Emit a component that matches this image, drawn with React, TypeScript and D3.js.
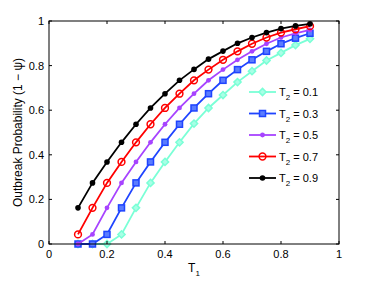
import * as d3 from 'd3'

const T1 = [0.1, 0.15, 0.2, 0.25, 0.3, 0.35, 0.4, 0.45, 0.5, 0.55, 0.6, 0.65, 0.7, 0.75, 0.8, 0.85, 0.9]

const seriesT01 = [0, 0, 0, 0.043, 0.162, 0.274, 0.368, 0.456, 0.54, 0.61, 0.668, 0.726, 0.775, 0.823, 0.857, 0.892, 0.92]
const seriesT03 = [0, 0, 0.043, 0.162, 0.274, 0.368, 0.456, 0.537, 0.61, 0.674, 0.734, 0.782, 0.826, 0.864, 0.898, 0.923, 0.945]
const seriesT05 = [0, 0.043, 0.162, 0.274, 0.368, 0.456, 0.537, 0.61, 0.674, 0.734, 0.782, 0.826, 0.864, 0.898, 0.926, 0.945, 0.96]
const seriesT07 = [0.043, 0.162, 0.274, 0.368, 0.456, 0.537, 0.61, 0.674, 0.734, 0.782, 0.826, 0.864, 0.898, 0.926, 0.948, 0.963, 0.977]
const seriesT09 = [0.162, 0.274, 0.368, 0.456, 0.537, 0.61, 0.674, 0.734, 0.783, 0.829, 0.865, 0.9, 0.926, 0.948, 0.966, 0.978, 0.987]

const legendLabels = ['0.1', '0.3', '0.5', '0.7', '0.9']
const xTicks = [0, 0.2, 0.4, 0.6, 0.8, 1]
const yTicks = [0, 0.2, 0.4, 0.6, 0.8, 1]

const series = [
  { label: legendLabels[0], values: seriesT01, color: '#7affd6', marker: 'diamond' },
  { label: legendLabels[1], values: seriesT03, color: '#1f44ff', marker: 'square' },
  { label: legendLabels[2], values: seriesT05, color: '#a743ff', marker: 'dot' },
  { label: legendLabels[3], values: seriesT07, color: '#ff0000', marker: 'circle' },
  { label: legendLabels[4], values: seriesT09, color: '#000000', marker: 'bigdot' },
]

const W = 374
const H = 281
const margin = { top: 21, right: 35, bottom: 37, left: 49 }
const FONT = '"Liberation Sans", Arial, sans-serif'

function Marker({ type, x, y, color }: { type: string; x: number; y: number; color: string }) {
  if (type === 'diamond') {
    const s = 3.6
    return (
      <path
        d={`M${x},${y - s}L${x + s},${y}L${x},${y + s}L${x - s},${y}Z`}
        fill="#a8ffe6"
        stroke={color}
        strokeWidth={1.5}
      />
    )
  }
  if (type === 'square') {
    return <rect x={x - 3} y={y - 3} width={6} height={6} fill="#5a7cff" stroke={color} strokeWidth={1.5} />
  }
  if (type === 'dot') {
    return <circle cx={x} cy={y} r={2.4} fill={color} />
  }
  if (type === 'circle') {
    return <circle cx={x} cy={y} r={3.4} fill="none" stroke={color} strokeWidth={1.5} />
  }
  return <circle cx={x} cy={y} r={2.8} fill={color} />
}

export default function App() {
  const x = d3.scaleLinear().domain([0, 1]).range([margin.left, W - margin.right])
  const y = d3.scaleLinear().domain([0, 1]).range([H - margin.bottom, margin.top])
  const line = d3
    .line<number>()
    .x((_, i) => x(T1[i]))
    .y((d) => y(d))

  const x0 = x(0)
  const x1 = x(1)
  const y0 = y(0)
  const y1 = y(1)
  const tick = 3

  // legend layout
  const legX = 249
  const legY = 92
  const legStep = 21.5

  return (
    <div style={{ position: 'absolute', left: 0, top: 0 }}>
      <svg width={W} height={H} style={{ display: 'block', background: '#fff' }} fontFamily={FONT}>
        {/* series */}
        {series.map((s) => (
          <g key={s.label}>
            <path d={line(s.values) || ''} fill="none" stroke={s.color} strokeWidth={1.8} />
            {s.values.map((v, i) => (
              <Marker key={i} type={s.marker} x={x(T1[i])} y={y(v)} color={s.color} />
            ))}
          </g>
        ))}

        {/* axes box */}
        <rect x={x0} y={y1} width={x1 - x0} height={y0 - y1} fill="none" stroke="#000" strokeWidth={1} />
        {xTicks.map((t) => (
          <g key={'x' + t}>
            <line x1={x(t)} x2={x(t)} y1={y0} y2={y0 - tick} stroke="#000" />
            <line x1={x(t)} x2={x(t)} y1={y1} y2={y1 + tick} stroke="#000" />
            <text x={x(t)} y={258} fontSize={11} textAnchor="middle">
              {t === 0 || t === 1 ? String(t) : t.toFixed(1)}
            </text>
          </g>
        ))}
        {yTicks.map((t) => (
          <g key={'y' + t}>
            <line x1={x0} x2={x0 + tick} y1={y(t)} y2={y(t)} stroke="#000" />
            <line x1={x1} x2={x1 - tick} y1={y(t)} y2={y(t)} stroke="#000" />
            <text x={44} y={y(t) + 4} fontSize={11} textAnchor="end">
              {t === 0 || t === 1 ? String(t) : t.toFixed(1)}
            </text>
          </g>
        ))}

        {/* axis labels */}
        <text x={(x0 + x1) / 2} y={272} fontSize={12} textAnchor="middle">
          T<tspan fontSize={8} dy={4}>1</tspan>
        </text>
        <text
          transform={`translate(21.5,${(y0 + y1) / 2}) rotate(-90)`}
          fontSize={12}
          textAnchor="middle"
        >
          Outbreak Probability (1 − ψ)
        </text>

        {/* legend */}
        {series.map((s, i) => {
          const ly = legY + i * legStep
          return (
            <g key={'leg' + s.label}>
              <line x1={legX} x2={legX + 27} y1={ly} y2={ly} stroke={s.color} strokeWidth={1.8} />
              <Marker type={s.marker} x={legX + 13.5} y={ly} color={s.color} />
              <text x={legX + 30} y={ly + 4} fontSize={11}>
                T<tspan fontSize={8} dy={4}>2</tspan>
                <tspan dy={-4}> = {s.label}</tspan>
              </text>
            </g>
          )
        })}
      </svg>
    </div>
  )
}
